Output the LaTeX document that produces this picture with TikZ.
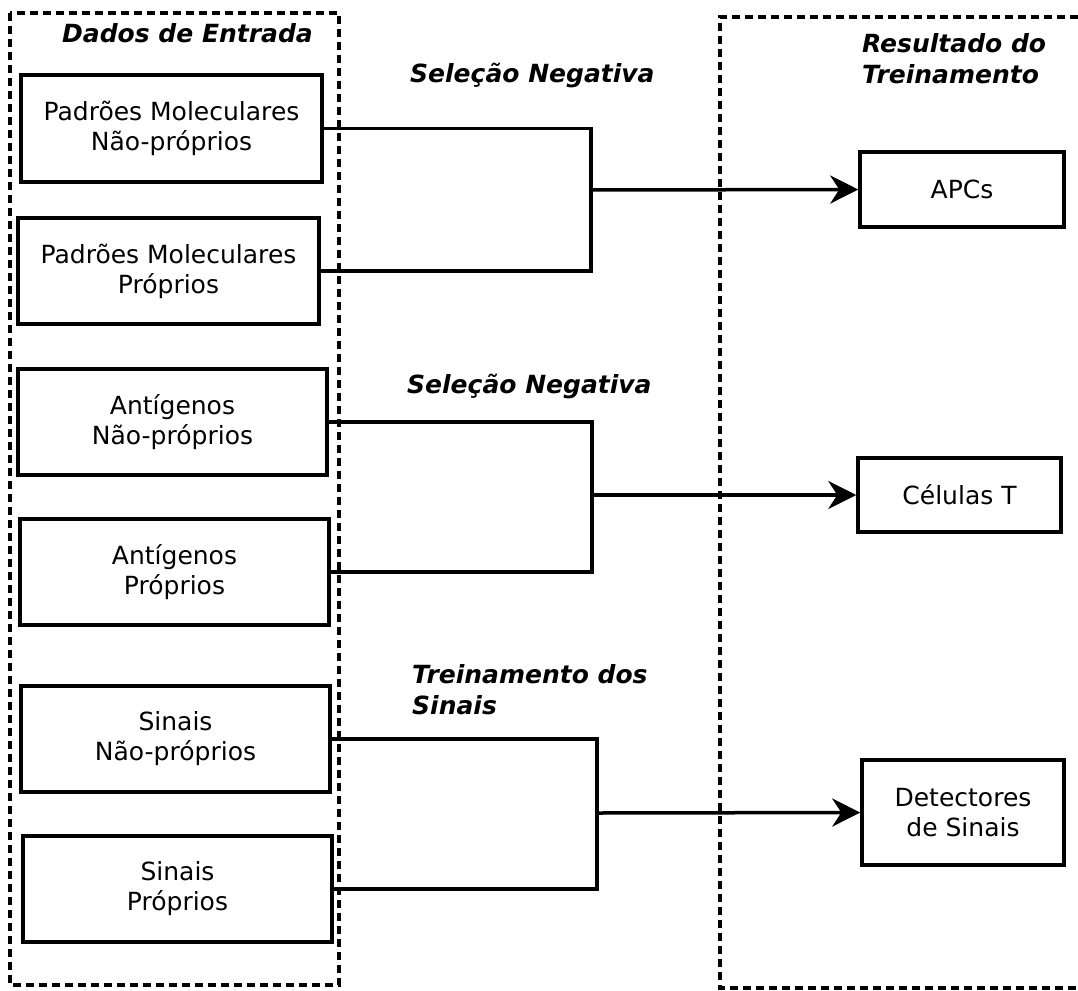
\documentclass[tikz,border=0pt]{standalone}
\usepackage{fontspec}
\setmainfont{DejaVu Sans}
\usetikzlibrary{arrows.meta}

\tikzset{
  box/.style={draw, line width=3.5pt, align=center, inner sep=0pt,
    font=\fontsize{25}{30}\selectfont},
  heading/.style={inner sep=0pt, align=left,
    font=\fontsize{25}{31}\selectfont\bfseries\itshape},
  link/.style={line width=3.5pt},
  arrow/.style={line width=3.5pt, -{Stealth[length=28pt, width=28pt, inset=9pt]}},
  frame/.style={line width=3.5pt, dash pattern=on 8pt off 5pt},
}

\begin{document}
\begin{tikzpicture}[x=1pt, y=-1pt]
\useasboundingbox (0,0) rectangle (1078,990);

% dashed group frames
\draw[frame] (10,13) rectangle (339,985);
\draw[frame] (1078,17) -- (720,17) -- (720,988) -- (1078,988);

\node[heading, anchor=base west] (hin) at (62,43) {Dados de Entrada};
\node[heading, anchor=base west] (hout) at (862,83) {Resultado do\\Treinamento};

% input patterns
\node[box, minimum width=301pt, minimum height=107pt] (b1) at (171.5,128.5) {Padrões Moleculares\\Não-próprios};
\node[box, minimum width=301pt, minimum height=106pt] (b2) at (168.5,271) {Padrões Moleculares\\Próprios};
\node[box, minimum width=309pt, minimum height=106pt] (b3) at (172.5,422) {Antígenos\\Não-próprios};
\node[box, minimum width=309pt, minimum height=106pt] (b4) at (174.5,572) {Antígenos\\Próprios};
\node[box, minimum width=309pt, minimum height=106pt] (b5) at (175.5,739) {Sinais\\Não-próprios};
\node[box, minimum width=309pt, minimum height=106pt] (b6) at (177.5,889) {Sinais\\Próprios};

% training results
\node[box, minimum width=204pt, minimum height=75pt] (r1) at (962,189.5) {APCs};
\node[box, minimum width=203pt, minimum height=74pt] (r2) at (959.5,495) {Células T};
\node[box, minimum width=202pt, minimum height=105pt] (r3) at (963,812.5) {Detectores\\de Sinais};

% process labels
\node[heading, anchor=base west] (l1) at (410,82) {Seleção Negativa};
\node[heading, anchor=base west] (l2) at (407,393) {Seleção Negativa};
\node[heading, anchor=base west] (l3) at (412,714) {Treinamento dos\\Sinais};

% junction points
\coordinate (j1) at (591,190);
\coordinate (j2) at (592,495);
\coordinate (j3) at (597,813);

\draw[link] (b1.east) -| (j1) |- (b2.east);
\draw[link] (b3.east) -| (j2) |- (b4.east);
\draw[link] (b5.east) -| (j3) |- (b6.east);

\draw[arrow] (j1) -- (r1.west);
\draw[arrow] (j2) -- (r2.west);
\draw[arrow] (j3) -- (r3.west);
\end{tikzpicture}
\end{document}
